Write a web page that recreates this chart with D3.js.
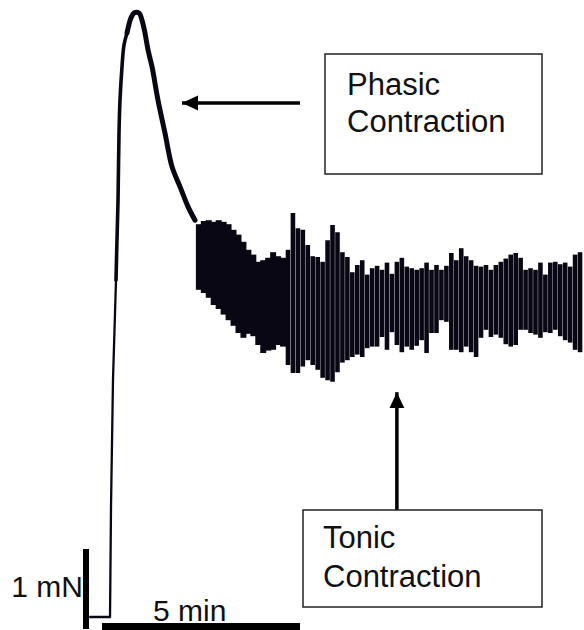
<!DOCTYPE html>
<html><head><meta charset="utf-8">
<script src="https://cdn.jsdelivr.net/npm/d3@7"></script>
<style>
html,body{margin:0;padding:0;background:#fff;}
svg{display:block;font-family:"Liberation Sans",Arial,Helvetica,sans-serif;}
</style></head><body>
<svg id="chart" width="584" height="630"></svg>
<script>
// Phasic contraction: time after stimulus (min) and force (mN)
const phasicTime  = [0.03, 0.556, 0.581, 0.631, 0.707, 0.732, 0.758, 0.783, 0.808, 0.859, 0.909, 0.985,
                     1.086, 1.162, 1.288, 1.364, 1.439, 1.515, 1.616, 1.768, 1.944, 2.121, 2.323, 2.525, 2.702];
const phasicForce = [0, 0, 1.38, 2.96, 4.21, 4.71, 5.21, 6.05, 6.46, 6.88, 7.15, 7.30,
                     7.49, 7.55, 7.55, 7.46, 7.30, 7.09, 6.88, 6.46, 6.05, 5.63, 5.38, 5.13, 4.96];

// Tonic contraction: upper and lower force (mN) of each oscillation cycle
const tonicStart = 2.80;   // min
const tonicStep  = 0.125;  // min per cycle
const tonicHigh = [4.91, 4.95, 4.96, 4.94, 4.96, 4.94, 4.91, 4.84, 4.78, 4.69,
                   4.59, 4.53, 4.44, 4.46, 4.49, 4.56, 4.51, 4.49, 4.59, 5.05,
                   4.86, 4.84, 4.65, 4.51, 4.50, 4.44, 4.71, 4.90, 4.81, 4.56,
                   4.50, 4.31, 4.40, 4.46, 4.28, 4.36, 4.39, 4.34, 4.43, 4.29,
                   4.44, 4.49, 4.38, 4.36, 4.34, 4.36, 4.43, 4.34, 4.40, 4.34,
                   4.39, 4.55, 4.46, 4.61, 4.51, 4.46, 4.39, 4.38, 4.40, 4.34,
                   4.40, 4.44, 4.48, 4.53, 4.55, 4.49, 4.34, 4.36, 4.34, 4.43,
                   4.28, 4.43, 4.44, 4.41, 4.43, 4.38, 4.53, 4.56];
const tonicLow  = [4.09, 4.05, 3.99, 3.90, 3.85, 3.78, 3.71, 3.64, 3.55, 3.49,
                   3.54, 3.51, 3.40, 3.30, 3.33, 3.34, 3.40, 3.38, 3.15, 3.05,
                   3.05, 3.13, 3.21, 3.15, 3.09, 2.99, 2.96, 2.94, 3.06, 3.18,
                   3.21, 3.25, 3.28, 3.25, 3.36, 3.38, 3.38, 3.50, 3.34, 3.56,
                   3.40, 3.31, 3.38, 3.34, 3.39, 3.46, 3.30, 3.55, 3.55, 3.71,
                   3.69, 3.34, 3.34, 3.31, 3.38, 3.31, 3.25, 3.49, 3.59, 3.50,
                   3.53, 3.49, 3.41, 3.38, 3.40, 3.59, 3.59, 3.55, 3.53, 3.49,
                   3.56, 3.55, 3.59, 3.51, 3.46, 3.43, 3.34, 3.31];

// Calibration bars
const timeBar  = {start: 0.354, length: 5, at: -0.125, label: "5 min"};
const forceBar = {start: -0.15, length: 1, at: -0.05, label: "1 mN"};

// Annotations: arrow tip in data units
const phasicNote = {lines: ["Phasic", "Contraction"], tipT: 2.374, tipF: 6.425};
const tonicNote  = {lines: ["Tonic", "Contraction"], tipT: 7.80, tipF: 2.81};

const W = 584, H = 630;
const ink = "#0a0714";
const svg = d3.select("#chart");

const x = d3.scaleLinear().domain([0, 12.5]).range([88, 583]);
const y = d3.scaleLinear().domain([0, 7.7125]).range([617, 0]);

svg.append("rect").attr("width", W).attr("height", H).attr("fill", "#fff");

// Phasic trace: thin pen on the fast upstroke, heavier on the peak and relaxation
const pts = phasicTime.map((t, i) => [t, phasicForce[i]]);
const line = d3.line().x(d => x(d[0])).y(d => y(d[1])).curve(d3.curveCatmullRom.alpha(0.5));
const split = 4;
svg.append("path").datum(pts.slice(0, split + 1))
  .attr("d", d3.line().x(d => x(d[0])).y(d => y(d[1])))
  .attr("fill", "none").attr("stroke", ink)
  .attr("stroke-width", 2.3).attr("stroke-linejoin", "round");
svg.append("path").datum(pts.slice(split, 12))
  .attr("d", line).attr("fill", "none").attr("stroke", ink)
  .attr("stroke-width", 3.6).attr("stroke-linejoin", "round").attr("stroke-linecap", "round");
svg.append("path").datum(pts.slice(11))
  .attr("d", line).attr("fill", "none").attr("stroke", ink)
  .attr("stroke-width", 5).attr("stroke-linejoin", "round").attr("stroke-linecap", "round");

// Tonic oscillations: one vertical pen stroke per cycle
const cycles = tonicHigh.map((h, i) => ({t: tonicStart + i * tonicStep, hi: h, lo: tonicLow[i]}));
svg.append("g").selectAll("line").data(cycles).join("line")
  .attr("x1", d => x(d.t)).attr("x2", d => x(d.t))
  .attr("y1", d => y(d.hi)).attr("y2", d => y(d.lo))
  .attr("stroke", ink)
  .attr("stroke-width", d => d.t < 5.05 ? 6 : 4.6);

// Calibration bars
svg.append("line")
  .attr("x1", x(forceBar.at)).attr("x2", x(forceBar.at))
  .attr("y1", y(forceBar.start + forceBar.length)).attr("y2", y(forceBar.start))
  .attr("stroke", "#000").attr("stroke-width", 6);
svg.append("line")
  .attr("x1", x(timeBar.start)).attr("x2", x(timeBar.start + timeBar.length))
  .attr("y1", y(timeBar.at)).attr("y2", y(timeBar.at))
  .attr("stroke", "#000").attr("stroke-width", 8);
svg.append("text").text(forceBar.label)
  .attr("x", x(forceBar.at) - 3).attr("y", 597)
  .attr("text-anchor", "end").attr("font-size", 30).attr("fill", "#111");
svg.append("text").text(timeBar.label)
  .attr("x", 153).attr("y", 621)
  .attr("font-size", 30).attr("fill", "#111");

// Arrowheads
const defs = svg.append("defs");
defs.append("marker").attr("id", "head")
  .attr("viewBox", "0 0 16 16").attr("refX", 16).attr("refY", 8)
  .attr("markerWidth", 16).attr("markerHeight", 16)
  .attr("markerUnits", "userSpaceOnUse").attr("orient", "auto")
  .append("path").attr("d", "M0,0.5 L16,8 L0,15.5 Z").attr("fill", "#000");

// Phasic annotation
svg.append("line")
  .attr("x1", 300).attr("y1", y(phasicNote.tipF))
  .attr("x2", x(phasicNote.tipT)).attr("y2", y(phasicNote.tipF))
  .attr("stroke", "#000").attr("stroke-width", 3.5).attr("marker-end", "url(#head)");
svg.append("rect").attr("x", 325).attr("y", 54).attr("width", 217).attr("height", 120)
  .attr("fill", "#fff").attr("stroke", "#222").attr("stroke-width", 1.5);
svg.append("text").attr("font-size", 31).attr("fill", "#111")
  .selectAll("tspan").data(phasicNote.lines).join("tspan")
  .attr("x", 347).attr("y", (d, i) => 95 + i * 37).text(d => d);

// Tonic annotation
svg.append("line")
  .attr("x1", x(tonicNote.tipT)).attr("y1", 510)
  .attr("x2", x(tonicNote.tipT)).attr("y2", y(tonicNote.tipF))
  .attr("stroke", "#000").attr("stroke-width", 3.5).attr("marker-end", "url(#head)");
svg.append("rect").attr("x", 303).attr("y", 510).attr("width", 239).attr("height", 97)
  .attr("fill", "#fff").attr("stroke", "#222").attr("stroke-width", 1.5);
svg.append("text").attr("font-size", 31).attr("fill", "#111")
  .selectAll("tspan").data(tonicNote.lines).join("tspan")
  .attr("x", 323).attr("y", (d, i) => 548 + i * 39).text(d => d);
</script>
</body></html>
